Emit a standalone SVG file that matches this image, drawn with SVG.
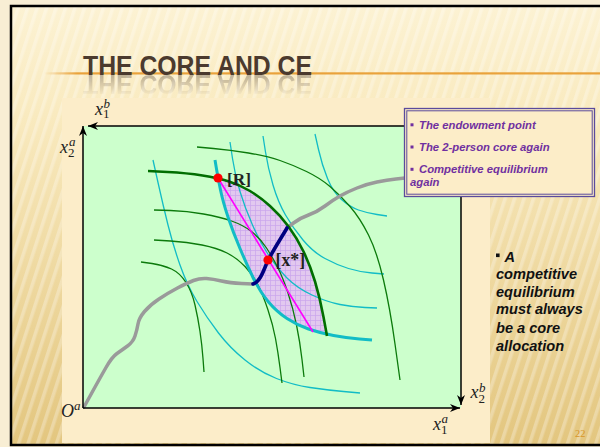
<svg xmlns="http://www.w3.org/2000/svg" xmlns:xlink="http://www.w3.org/1999/xlink" width="600" height="447" viewBox="0 0 600 447">
<defs>
<style>
.thinG{fill:none;stroke:#0b7a0b;stroke-width:1.3}
.thinC{fill:none;stroke:#12bcc6;stroke-width:1.3}
.thickG{fill:none;stroke:#006e00;stroke-width:2.6}
.thickC{fill:none;stroke:#12bcc6;stroke-width:3}
.axis{fill:none;stroke:#000;stroke-width:1.5}
.math{font-family:"Liberation Serif","Times New Roman",serif;fill:#222;font-size:18px;font-style:italic}
.sub{font-size:13px;font-style:normal}
.sup{font-size:13px;font-style:italic}
.box{font-family:"Liberation Sans",Arial,sans-serif;font-weight:bold;font-style:italic;font-size:11.3px;fill:#7030a0}
.side{font-family:"Liberation Sans",Arial,sans-serif;font-weight:bold;font-style:italic;font-size:14.6px;fill:#111}
.lbl{font-family:"Liberation Serif","Times New Roman",serif;font-weight:bold;fill:#222}
</style>
<linearGradient id="bg" x1="0" y1="0" x2="0" y2="1">
<stop offset="0" stop-color="#fcf2d3"/>
<stop offset="0.25" stop-color="#f9eabf"/>
<stop offset="1" stop-color="#e3c67f"/>
</linearGradient>
<linearGradient id="orange" x1="0" y1="0" x2="1" y2="0">
<stop offset="0" stop-color="#e9a23b" stop-opacity="0"/>
<stop offset="0.06" stop-color="#e9a23b" stop-opacity="1"/>
<stop offset="1" stop-color="#e9a23b"/>
</linearGradient>
<linearGradient id="reflMaskGrad" x1="0" y1="75" x2="0" y2="96" gradientUnits="userSpaceOnUse">
<stop offset="0" stop-color="#fff" stop-opacity="0.35"/>
<stop offset="1" stop-color="#fff" stop-opacity="0"/>
</linearGradient>
<mask id="reflMask" maskUnits="userSpaceOnUse" x="0" y="0" width="600" height="447">
<rect x="0" y="75" width="600" height="25" fill="url(#reflMaskGrad)"/>
</mask>
<pattern id="stripes" width="9" height="9" patternUnits="userSpaceOnUse" patternTransform="rotate(18)">
<rect x="0" y="0" width="3.5" height="9" fill="#ffffff" opacity="0.28"/>
</pattern>
<pattern id="grid" width="5" height="5" patternUnits="userSpaceOnUse">
<rect width="5" height="5" fill="#e2c8ef"/>
<path d="M0,0.4 H5 M0.4,0 V5" stroke="#c9a4ec" stroke-width="0.8"/>
</pattern>
<marker id="arr" viewBox="0 0 10 8" refX="10" refY="4" markerWidth="10" markerHeight="8" markerUnits="userSpaceOnUse" orient="auto">
<path d="M0,0 L10,4 L0,8 L3,4 Z" fill="#000"/>
</marker>
</defs>

<!-- slide -->
<rect x="0" y="0" width="600" height="447" fill="#f8eed4"/>
<rect x="11" y="6" width="595" height="439" fill="url(#bg)"/>
<rect x="11" y="6" width="595" height="439" fill="url(#stripes)"/>
<rect x="11" y="6" width="595" height="439" fill="none" stroke="#000" stroke-width="2.5"/>

<!-- title -->
<g id="title">
<rect x="44" y="72.3" width="556" height="2.2" fill="url(#orange)"/>
<text id="titleText" x="83" y="75" font-family="'Liberation Sans',Arial,sans-serif" font-weight="bold" font-size="27" fill="#4b3a2e" textLength="229" lengthAdjust="spacingAndGlyphs">THE CORE AND CE</text>
<g mask="url(#reflMask)"><use xlink:href="#titleText" href="#titleText" transform="translate(0,150) scale(1,-1)"/></g>
</g>

<!-- picture backdrop -->
<rect x="62" y="98" width="428" height="345" fill="#fcedc9"/>
<rect x="83" y="126" width="378" height="282" fill="#ccffcc"/>

<!-- core lens -->
<g id="core">
<path d="M218,178 L229,181.5 Q240,185 250,191 Q260,197 270,206 Q280,215 288.5,226.5 Q297,238 303.5,251.5 Q310,265 315,281.5 Q320,298 323.5,317 L327,336 L322,333.5 L308.5,329 Q297,325 287,318.5 Q277,312 268.5,302 Q260,292 253.5,278.5 Q247,265 240,248.5 Q233,232 228,217 Q223,202 220.5,190 Z" fill="url(#grid)"/>
</g>

<g id="connectors">
<!-- person b thin curves -->
<path class="thinC" d="M153,160 L158,182.5 Q163,205 168,225 Q173,245 180,265 Q187,285 197,301.5 Q207,318 218.5,333 Q230,348 245,360 Q260,372 276.5,378.5 Q293,385 310,387.5 Q327,390 343.5,391.5 L360,393"/>
<path class="thinC" d="M230,142 L232.5,158.5 Q235,175 240,191.5 Q245,208 252.5,225 Q260,242 268.5,255 Q277,268 287,278 Q297,288 312,295 Q327,302 340,304.5 Q353,307 365,307.5 L377,308"/>
<path class="thinC" d="M263,136 L265.5,152 Q268,168 273,185 Q278,202 285.5,215 Q293,228 303,240 Q313,252 325,258.5 Q337,265 348.5,268.5 Q360,272 372,273 L384,274"/>
<path class="thinC" d="M315,134 L318.5,149.5 Q322,165 327.5,178.5 Q333,192 341.5,199.5 Q350,207 358.5,210 Q367,213 377,214.5 L387,216"/>
<!-- person a thin curves -->
<path class="thinG" d="M197,147 L213.5,148.5 Q230,150 248.5,153 Q267,156 280,160.5 Q293,165 306.5,171.5 Q320,178 330,186.5 Q340,195 350,206.5 Q360,218 368.5,235 Q377,252 383.5,280 Q390,308 395,344 L400,380"/>
<path class="thinG" d="M154,210 L170.5,210.5 Q187,211 203.5,214 Q220,217 231.5,221 Q243,225 251.5,231.5 Q260,238 266.5,248 Q273,258 278,268 Q283,278 288,293 Q293,308 296.5,325 Q300,342 302,359.5 L304,377"/>
<path class="thinG" d="M154,240 L170.5,241 Q187,242 202,245 Q217,248 227,253 Q237,258 245,266.5 Q253,275 258,285 Q263,295 268,310 Q273,325 275.5,338.5 Q278,352 280,367.5 L282,383"/>
<path class="thinG" d="M141,262 L152,263.5 Q163,265 171.5,269 Q180,273 186,282.5 Q192,292 195,305 Q198,318 200,331.5 Q202,345 203,358.5 L204,372"/>
<!-- offer / path curve -->
<path d="M84,407 L92,392.5 Q100,378 106,367.5 Q112,357 117,353.5 Q122,350 127.5,346 Q133,342 135,336 Q137,330 138,324 Q139,318 144.5,311.5 Q150,305 159,299 Q168,293 177.5,288 Q187,283 193.5,280.5 Q200,278 206.5,278.5 Q213,279 221.5,281 Q230,283 241.5,283.5 L253,284" fill="none" stroke="#9a9a9a" stroke-width="3.5" stroke-linecap="round"/>
<path d="M287,228 L293.5,223 Q300,218 308.5,215 Q317,212 325,206 Q333,200 340,196 Q347,192 357,188 Q367,184 377,182 Q387,180 396,179 L405,178" fill="none" stroke="#9a9a9a" stroke-width="3.5" stroke-linecap="round"/>
<!-- thick boundary curves -->
<path class="thickC" d="M215,160 L216.5,169 Q218,178 220.5,190 Q223,202 228,217 Q233,232 240,248.5 Q247,265 253.5,278.5 Q260,292 268.5,302 Q277,312 287,318.5 Q297,325 308.5,329 Q320,333 333.5,335.5 Q347,338 359.5,339 L372,340"/>
<path class="thickG" d="M148,171 L167.5,172 Q187,173 202.5,175.5 Q218,178 229,181.5 Q240,185 250,191 Q260,197 270,206 Q280,215 288.5,226.5 Q297,238 303.5,251.5 Q310,265 315,281.5 Q320,298 323.5,317 L327,336"/>
<!-- competitive equilibrium price line -->
<path d="M218,178 L313,332" fill="none" stroke="#ff00ff" stroke-width="1.6"/>
<!-- contract curve within core -->
<path d="M253,284 C259,282 262,275 266,265 C270,255 280,240 287,228" fill="none" stroke="#000080" stroke-width="3.6" stroke-linecap="round"/>
<!-- axes -->
<path class="axis" d="M83,408 H460" marker-end="url(#arr)"/>
<path class="axis" d="M83,408 V126" marker-end="url(#arr)"/>
<path class="axis" d="M461,126 H88" marker-end="url(#arr)"/>
<path class="axis" d="M461,126 V405" marker-end="url(#arr)"/>
</g>

<g id="pointR">
<circle cx="218" cy="178" r="4.6" fill="#ff0000"/>
<text class="lbl" x="227" y="184.5" font-size="17.3">[R]</text>
</g>
<g id="pointX">
<circle cx="268" cy="260" r="4.6" fill="#ff0000"/>
<text class="lbl" x="275.5" y="266" font-size="17.8">[x*]</text>
</g>

<!-- axis labels -->
<g id="labels">
<text class="math" x="95" y="115">x<tspan class="sub" dy="3.3">1</tspan><tspan class="sup" dx="-6" dy="-10.3">b</tspan></text>
<text class="math" x="60" y="153">x<tspan class="sub" dy="3.5">2</tspan><tspan class="sup" dx="-5.5" dy="-10.5">a</tspan></text>
<text class="math" x="61" y="416.7" font-size="19">O<tspan class="sup" font-size="12" dy="-6.7">a</tspan></text>
<text class="math" x="470.5" y="398.3">x<tspan class="sub" dy="4.4">2</tspan><tspan class="sup" dx="-6" dy="-11">b</tspan></text>
<text class="math" x="433" y="430">x<tspan class="sub" dy="4">1</tspan><tspan class="sup" dx="-6" dy="-10.7">a</tspan></text>
</g>

<!-- legend box -->
<g id="legend">
<rect x="404.5" y="108.5" width="190" height="88" fill="#fcedc8" stroke="#5b4b9c" stroke-width="1.3"/>
<rect x="406.8" y="110.8" width="185.4" height="83.4" fill="none" stroke="#5b4b9c" stroke-width="1"/>
<rect x="410.5" y="123.3" width="3" height="3" fill="#7030a0"/>
<text class="box" x="419" y="128.8">The endowment point</text>
<rect x="410.5" y="145.5" width="3" height="3" fill="#7030a0"/>
<text class="box" x="419" y="151">The 2-person core again</text>
<rect x="410.5" y="167.8" width="3" height="3" fill="#7030a0"/>
<text class="box" x="419" y="173.3">Competitive equilibrium</text>
<text class="box" x="410" y="185.8">again</text>
</g>

<!-- side text -->
<g id="sidetext">
<rect x="496" y="253.5" width="3.6" height="3.6" fill="#111"/>
<text class="side" x="504.5" y="261.7">A</text>
<text class="side" x="496" y="278.7">competitive</text>
<text class="side" x="496" y="296.5">equilibrium</text>
<text class="side" x="496" y="314.3">must always</text>
<text class="side" x="496" y="332.6">be a core</text>
<text class="side" x="496" y="350.6">allocation</text>
</g>

<text x="575" y="437" font-family="'Liberation Serif','Times New Roman',serif" font-size="10.5" fill="#d8962a">22</text>
</svg>
